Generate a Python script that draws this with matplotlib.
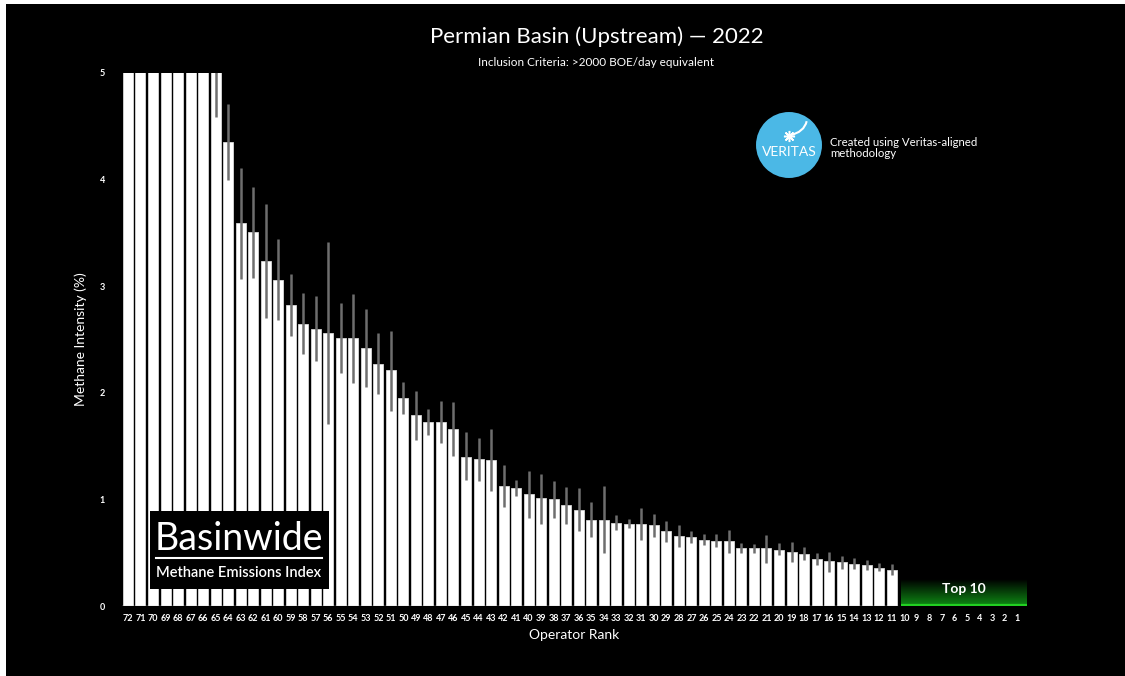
import numpy as np
import matplotlib
matplotlib.use("Agg")
import matplotlib.pyplot as plt
from matplotlib.patches import Circle, Rectangle, PathPatch
from matplotlib.path import Path
from matplotlib.colors import LinearSegmentedColormap

plt.rcParams['font.family'] = ['Lato', 'DejaVu Sans']

# operator ranks, worst (72) to best (1)
ranks = list(range(72, 0, -1))

# methane intensity (%) for ranks 72..11, ranks 10..1 are not shown
intensity = [9.0, 8.2, 7.5, 6.9, 6.4, 6.0, 5.6, 5.05,
             4.35, 3.59, 3.51, 3.24, 3.06, 2.82, 2.65, 2.60, 2.56, 2.51,
             2.51, 2.42, 2.27, 2.21, 1.95, 1.79, 1.73, 1.73, 1.66, 1.40,
             1.38, 1.37, 1.13, 1.11, 1.05, 1.01, 1.00, 0.95, 0.90, 0.81,
             0.81, 0.78, 0.77, 0.77, 0.76, 0.70, 0.66, 0.65, 0.62, 0.61,
             0.61, 0.545, 0.54, 0.54, 0.53, 0.51, 0.49, 0.44, 0.42, 0.41,
             0.39, 0.38, 0.36, 0.34]
err_low = [8.2, 7.5, 6.8, 6.3, 5.8, 5.5, 5.2, 4.59,
           4.00, 3.07, 3.08, 2.70, 2.68, 2.53, 2.36, 2.30, 1.71, 2.19,
           2.09, 2.05, 1.99, 1.83, 1.80, 1.56, 1.60, 1.53, 1.41, 1.18,
           1.17, 1.08, 0.93, 1.03, 0.83, 0.77, 0.83, 0.77, 0.70, 0.65,
           0.50, 0.71, 0.73, 0.62, 0.65, 0.60, 0.55, 0.59, 0.57, 0.55,
           0.50, 0.50, 0.50, 0.40, 0.48, 0.41, 0.43, 0.38, 0.32, 0.35,
           0.35, 0.34, 0.33, 0.29]
err_high = [9.8, 8.9, 8.2, 7.5, 7.0, 6.5, 6.0, 5.5,
            4.71, 4.11, 3.93, 3.77, 3.44, 3.11, 2.94, 2.91, 3.41, 2.84,
            2.93, 2.79, 2.56, 2.58, 2.10, 2.02, 1.85, 1.92, 1.91, 1.63,
            1.58, 1.66, 1.32, 1.18, 1.27, 1.24, 1.17, 1.12, 1.11, 0.98,
            1.13, 0.85, 0.82, 0.92, 0.86, 0.80, 0.76, 0.70, 0.68, 0.68,
            0.71, 0.59, 0.58, 0.67, 0.59, 0.60, 0.55, 0.50, 0.51, 0.47,
            0.45, 0.43, 0.40, 0.39]

W, H = 1125, 676
fig = plt.figure(figsize=(W / 100, H / 100), dpi=100, facecolor='white')
fig.add_artist(Rectangle((6 / W, 0), 1, 1 - 4 / H, transform=fig.transFigure,
                         facecolor='black', edgecolor='none', zorder=0))

ax = fig.add_axes([121.7 / W, 1 - 606 / H, 905.2 / W, (606 - 73) / H])
ax.set_facecolor('black')

n_shown = len(intensity)
x = np.arange(n_shown)
vals = np.array(intensity)
lo = vals - np.array(err_low)
hi = np.array(err_high) - vals

ax.bar(x, vals, width=0.8, color='white', edgecolor='#d8d8d8', linewidth=0.6, zorder=2)
ax.errorbar(x, vals, yerr=[lo, hi], fmt='none', ecolor='#6e6e6e',
            elinewidth=1.8, capsize=0, zorder=3)
ax.plot([-0.5, n_shown - 0.6], [0, 0], color='#bdbdbd', lw=1, zorder=4)

# top 10 gradient box: black at top fading to green at the baseline
green = LinearSegmentedColormap.from_list('g', ['#0e8a14', 'black'])
grad = np.linspace(0, 1, 100).reshape(-1, 1)
ax.imshow(grad, cmap=green, aspect='auto', origin='lower',
          extent=[61.75, 71.8, 0, 0.25], zorder=1)
ax.plot([61.75, 71.8], [0.008, 0.008], color='#22d022', lw=1.6, zorder=4,
        solid_capstyle='butt')
ax.text((61.75 + 71.8) / 2, 0.155, 'Top 10', color='white', fontsize=10,
        fontweight='bold', ha='center', va='center', zorder=5)

ax.set_xlim(-0.5, 71.8)
ax.set_ylim(0, 5)
ax.set_xticks(np.arange(len(ranks)))
ax.set_xticklabels([str(r) for r in ranks])
ax.set_yticks([0, 1, 2, 3, 4, 5])
ax.tick_params(axis='both', length=0, colors='white', labelsize=6.5)
ax.tick_params(axis='x', pad=6)
ax.tick_params(axis='y', pad=12)
for lab in ax.get_xticklabels() + ax.get_yticklabels():
    lab.set_fontweight('bold')
for s in ax.spines.values():
    s.set_visible(False)

ax.set_xlabel('Operator Rank', color='white', fontsize=10, labelpad=4)
ax.set_ylabel('Methane Intensity (%)', color='white', fontsize=10, labelpad=9)

fig.text(597 / W, 1 - 37 / H, 'Permian Basin (Upstream) \u2014 2022', color='white',
         fontsize=16, ha='center', va='center')
fig.text(596 / W, 1 - 62 / H, 'Inclusion Criteria: >2000 BOE/day equivalent',
         color='white', fontsize=8.5, ha='center', va='center')

# Basinwide badge
fig.add_artist(Rectangle((150 / W, 1 - 589 / H), 179 / W, 78 / H,
                         transform=fig.transFigure, facecolor='black',
                         edgecolor='none', zorder=6))
fig.text(239 / W, 1 - 539 / H, 'Basinwide', color='white', fontsize=27,
         ha='center', va='center', zorder=7)
fig.add_artist(plt.Line2D([156 / W, 322 / W], [1 - 558 / H, 1 - 558 / H],
                          transform=fig.transFigure, color='white', lw=1.5, zorder=7))
fig.text(239 / W, 1 - 573 / H, 'Methane Emissions Index', color='white',
         fontsize=10.5, ha='center', va='center', fontweight='semibold', zorder=7)

# Veritas logo
lax = fig.add_axes([755 / W, 1 - 179 / H, 68 / W, 68 / H])
lax.set_xlim(-1, 1)
lax.set_ylim(-1, 1)
lax.set_aspect('equal')
lax.axis('off')
lax.add_patch(Circle((0, 0), 0.97, facecolor='#4bb8e6', edgecolor='none'))
tail = Path([(0.02, 0.28), (0.45, 0.38), (0.52, 0.7)],
            [Path.MOVETO, Path.CURVE3, Path.CURVE3])
lax.add_patch(PathPatch(tail, facecolor='none', edgecolor='white', lw=1.5))
lax.plot([0.0], [0.27], marker=(8, 2, 0), color='white', markersize=8, mew=1.1)
lax.text(0, -0.22, 'VERITAS', color='white', fontsize=10, ha='center',
         va='center')

fig.text(830 / W, 1 - 148 / H, 'Created using Veritas-aligned\nmethodology',
         color='white', fontsize=8.2, ha='left', va='center', linespacing=0.95)

fig.savefig('out.png', dpi=100, facecolor=fig.get_facecolor())
